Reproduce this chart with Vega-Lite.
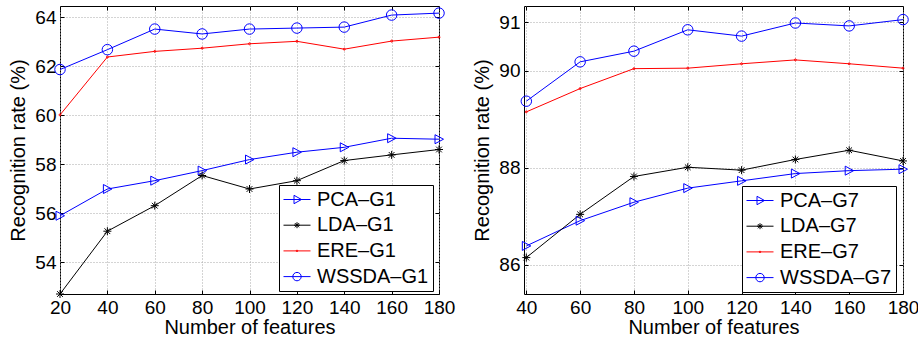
{
  "$schema": "https://vega.github.io/schema/vega-lite/v6.json",
  "padding": {"left": 8, "top": 5, "right": 0, "bottom": 0},
  "background": "white",
  "config": {
    "view": {"stroke": "#000", "strokeWidth": 1},
    "axis": {
      "domain": false,
      "labelFont": "Liberation Sans",
      "titleFont": "Liberation Sans",
      "labelFontSize": 19,
      "titleFontSize": 20,
      "titleFontWeight": "normal",
      "labelColor": "#000",
      "titleColor": "#000",
      "tickColor": "#000",
      "tickSize": -4,
      "tickWidth": 1,
      "gridColor": "#a8a8a8",
      "gridDash": [1, 2],
      "gridOpacity": 1,
      "labelFlush": false,
      "labelOverlap": false
    },
    "legend": {
      "labelFont": "Liberation Sans",
      "labelFontSize": 20,
      "labelColor": "#000",
      "strokeColor": "#000",
      "fillColor": "#fff",
      "padding": 4,
      "symbolSize": 400,
      "symbolOffset": 3.5,
      "symbolStrokeWidth": 1,
      "labelOffset": 9.5,
      "rowPadding": 4.7
    },
    "point": {"filled": false, "strokeWidth": 1, "size": 100, "opacity": 1}
  },
  "datasets": {
    "g1": [
      {"n": 20, "rate": 55.90, "method": "PCA–G1"},
      {"n": 40, "rate": 56.99, "method": "PCA–G1"},
      {"n": 60, "rate": 57.33, "method": "PCA–G1"},
      {"n": 80, "rate": 57.74, "method": "PCA–G1"},
      {"n": 100, "rate": 58.19, "method": "PCA–G1"},
      {"n": 120, "rate": 58.49, "method": "PCA–G1"},
      {"n": 140, "rate": 58.69, "method": "PCA–G1"},
      {"n": 160, "rate": 59.06, "method": "PCA–G1"},
      {"n": 180, "rate": 59.02, "method": "PCA–G1"},
      {"n": 20, "rate": 52.71, "method": "LDA–G1"},
      {"n": 40, "rate": 55.27, "method": "LDA–G1"},
      {"n": 60, "rate": 56.31, "method": "LDA–G1"},
      {"n": 80, "rate": 57.54, "method": "LDA–G1"},
      {"n": 100, "rate": 56.99, "method": "LDA–G1"},
      {"n": 120, "rate": 57.33, "method": "LDA–G1"},
      {"n": 140, "rate": 58.15, "method": "LDA–G1"},
      {"n": 160, "rate": 58.38, "method": "LDA–G1"},
      {"n": 180, "rate": 58.60, "method": "LDA–G1"},
      {"n": 20, "rate": 60.01, "method": "ERE–G1"},
      {"n": 40, "rate": 62.37, "method": "ERE–G1"},
      {"n": 60, "rate": 62.60, "method": "ERE–G1"},
      {"n": 80, "rate": 62.73, "method": "ERE–G1"},
      {"n": 100, "rate": 62.91, "method": "ERE–G1"},
      {"n": 120, "rate": 63.01, "method": "ERE–G1"},
      {"n": 140, "rate": 62.69, "method": "ERE–G1"},
      {"n": 160, "rate": 63.02, "method": "ERE–G1"},
      {"n": 180, "rate": 63.18, "method": "ERE–G1"},
      {"n": 20, "rate": 61.86, "method": "WSSDA–G1"},
      {"n": 40, "rate": 62.67, "method": "WSSDA–G1"},
      {"n": 60, "rate": 63.51, "method": "WSSDA–G1"},
      {"n": 80, "rate": 63.31, "method": "WSSDA–G1"},
      {"n": 100, "rate": 63.51, "method": "WSSDA–G1"},
      {"n": 120, "rate": 63.55, "method": "WSSDA–G1"},
      {"n": 140, "rate": 63.59, "method": "WSSDA–G1"},
      {"n": 160, "rate": 64.08, "method": "WSSDA–G1"},
      {"n": 180, "rate": 64.16, "method": "WSSDA–G1"}
    ],
    "g7": [
      {"n": 40, "rate": 86.39, "method": "PCA–G7"},
      {"n": 60, "rate": 86.91, "method": "PCA–G7"},
      {"n": 80, "rate": 87.29, "method": "PCA–G7"},
      {"n": 100, "rate": 87.58, "method": "PCA–G7"},
      {"n": 120, "rate": 87.73, "method": "PCA–G7"},
      {"n": 140, "rate": 87.88, "method": "PCA–G7"},
      {"n": 160, "rate": 87.94, "method": "PCA–G7"},
      {"n": 180, "rate": 87.97, "method": "PCA–G7"},
      {"n": 40, "rate": 86.15, "method": "LDA–G7"},
      {"n": 60, "rate": 87.04, "method": "LDA–G7"},
      {"n": 80, "rate": 87.82, "method": "LDA–G7"},
      {"n": 100, "rate": 88.01, "method": "LDA–G7"},
      {"n": 120, "rate": 87.95, "method": "LDA–G7"},
      {"n": 140, "rate": 88.17, "method": "LDA–G7"},
      {"n": 160, "rate": 88.36, "method": "LDA–G7"},
      {"n": 180, "rate": 88.14, "method": "LDA–G7"},
      {"n": 40, "rate": 89.15, "method": "ERE–G7"},
      {"n": 60, "rate": 89.63, "method": "ERE–G7"},
      {"n": 80, "rate": 90.04, "method": "ERE–G7"},
      {"n": 100, "rate": 90.05, "method": "ERE–G7"},
      {"n": 120, "rate": 90.14, "method": "ERE–G7"},
      {"n": 140, "rate": 90.22, "method": "ERE–G7"},
      {"n": 160, "rate": 90.14, "method": "ERE–G7"},
      {"n": 180, "rate": 90.05, "method": "ERE–G7"},
      {"n": 40, "rate": 89.37, "method": "WSSDA–G7"},
      {"n": 60, "rate": 90.18, "method": "WSSDA–G7"},
      {"n": 80, "rate": 90.40, "method": "WSSDA–G7"},
      {"n": 100, "rate": 90.84, "method": "WSSDA–G7"},
      {"n": 120, "rate": 90.71, "method": "WSSDA–G7"},
      {"n": 140, "rate": 90.98, "method": "WSSDA–G7"},
      {"n": 160, "rate": 90.92, "method": "WSSDA–G7"},
      {"n": 180, "rate": 91.05, "method": "WSSDA–G7"}
    ]
  },
  "spacing": 16,
  "resolve": {
    "scale": {"color": "independent"},
    "legend": {"color": "independent"}
  },
  "hconcat": [
    {
      "width": 379,
      "height": 288,
      "data": {"name": "g1"},
      "resolve": {"axis": {"x": "independent", "y": "independent"}},
      "layer": [
        {
          "mark": {"type": "line", "strokeWidth": 1},
          "encoding": {
            "x": {"field": "n", "type": "quantitative",
              "scale": {"domain": [20, 180], "nice": false, "zero": false},
              "axis": {"orient": "bottom", "values": [20, 40, 60, 80, 100, 120, 140, 160, 180], "title": "Number of features", "grid": true, "labelPadding": 8, "titlePadding": 0}},
            "y": {"field": "rate", "type": "quantitative",
              "scale": {"domain": [52.71, 64.45], "nice": false, "zero": false},
              "axis": {"orient": "left", "values": [54, 56, 58, 60, 62, 64], "title": "Recognition rate (%)", "grid": true, "labelPadding": 8, "titlePadding": 6}},
            "color": {"field": "method", "type": "nominal",
              "scale": {"domain": ["PCA–G1", "LDA–G1", "ERE–G1", "WSSDA–G1"], "range": ["#0000ff", "#000000", "#ff0000", "#0000ff"]},
              "legend": {"orient": "none", "legendX": 219, "legendY": 179, "title": null,
                "encode": {"symbols": {"update": {
                  "shape": {"signal": "datum.index == 0 ? 'M-1.35,0H1.35M-0.3,-0.42L0.45,0L-0.3,0.42Z' : datum.index == 1 ? 'M-1.35,0H1.35M-0.3,0H0.3M0,-0.3V0.3M-0.21,-0.21L0.21,0.21M-0.21,0.21L0.21,-0.21' : datum.index == 2 ? 'M-1.35,0H1.35M-0.08,0A0.08,0.08,0,1,1,0.08,0A0.08,0.08,0,1,1,-0.08,0Z' : 'M-1.35,0H1.35M-0.42,0A0.42,0.42,0,1,1,0.42,0A0.42,0.42,0,1,1,-0.42,0Z'"},
                  "fill": {"value": "transparent"},
                  "strokeWidth": {"value": 1}
                }}}}}
          }
        },
        {
          "transform": [{"filter": "datum.method == 'PCA–G1'"}],
          "mark": {"type": "point", "color": "#0000ff", "shape": "M-0.8,-0.9L0.9,0L-0.8,0.9Z"},
          "encoding": {
            "x": {"field": "n", "type": "quantitative",
              "axis": {"orient": "top", "values": [20, 40, 60, 80, 100, 120, 140, 160, 180], "labels": false, "title": null, "grid": false}},
            "y": {"field": "rate", "type": "quantitative",
              "axis": {"orient": "right", "values": [54, 56, 58, 60, 62, 64], "labels": false, "title": null, "grid": false}}
          }
        },
        {
          "transform": [{"filter": "datum.method == 'LDA–G1'"}],
          "mark": {"type": "point", "color": "#000000", "shape": "M-0.8,0H0.8M0,-0.8V0.8M-0.57,-0.57L0.57,0.57M-0.57,0.57L0.57,-0.57"},
          "encoding": {
            "x": {"field": "n", "type": "quantitative", "axis": null},
            "y": {"field": "rate", "type": "quantitative", "axis": null}
          }
        },
        {
          "transform": [{"filter": "datum.method == 'ERE–G1'"}],
          "mark": {"type": "point", "color": "#ff0000", "shape": "M-0.2,0A0.2,0.2,0,1,1,0.2,0A0.2,0.2,0,1,1,-0.2,0Z"},
          "encoding": {
            "x": {"field": "n", "type": "quantitative", "axis": null},
            "y": {"field": "rate", "type": "quantitative", "axis": null}
          }
        },
        {
          "transform": [{"filter": "datum.method == 'WSSDA–G1'"}],
          "mark": {"type": "point", "color": "#0000ff", "shape": "M-1.05,0A1.05,1.05,0,1,1,1.05,0A1.05,1.05,0,1,1,-1.05,0Z"},
          "encoding": {
            "x": {"field": "n", "type": "quantitative", "axis": null},
            "y": {"field": "rate", "type": "quantitative", "axis": null}
          }
        }
      ]
    },
    {
      "width": 379,
      "height": 288,
      "data": {"name": "g7"},
      "resolve": {"axis": {"x": "independent", "y": "independent"}},
      "layer": [
        {
          "mark": {"type": "line", "strokeWidth": 1},
          "encoding": {
            "x": {"field": "n", "type": "quantitative",
              "scale": {"domain": [39.14, 180], "nice": false, "zero": false},
              "axis": {"orient": "bottom", "values": [40, 60, 80, 100, 120, 140, 160, 180], "title": "Number of features", "grid": true, "labelPadding": 8, "titlePadding": 0}},
            "y": {"field": "rate", "type": "quantitative",
              "scale": {"domain": [85.40, 91.33], "nice": false, "zero": false},
              "axis": {"orient": "left", "values": [86, 88, 90, 91], "title": "Recognition rate (%)", "grid": true, "labelPadding": 8, "titlePadding": 6}},
            "color": {"field": "method", "type": "nominal",
              "scale": {"domain": ["PCA–G7", "LDA–G7", "ERE–G7", "WSSDA–G7"], "range": ["#0000ff", "#000000", "#ff0000", "#0000ff"]},
              "legend": {"orient": "none", "legendX": 218, "legendY": 180, "title": null,
                "encode": {"symbols": {"update": {
                  "shape": {"signal": "datum.index == 0 ? 'M-1.35,0H1.35M-0.3,-0.42L0.45,0L-0.3,0.42Z' : datum.index == 1 ? 'M-1.35,0H1.35M-0.3,0H0.3M0,-0.3V0.3M-0.21,-0.21L0.21,0.21M-0.21,0.21L0.21,-0.21' : datum.index == 2 ? 'M-1.35,0H1.35M-0.08,0A0.08,0.08,0,1,1,0.08,0A0.08,0.08,0,1,1,-0.08,0Z' : 'M-1.35,0H1.35M-0.42,0A0.42,0.42,0,1,1,0.42,0A0.42,0.42,0,1,1,-0.42,0Z'"},
                  "fill": {"value": "transparent"},
                  "strokeWidth": {"value": 1}
                }}}}}
          }
        },
        {
          "transform": [{"filter": "datum.method == 'PCA–G7'"}],
          "mark": {"type": "point", "color": "#0000ff", "shape": "M-0.8,-0.9L0.9,0L-0.8,0.9Z"},
          "encoding": {
            "x": {"field": "n", "type": "quantitative",
              "axis": {"orient": "top", "values": [40, 60, 80, 100, 120, 140, 160, 180], "labels": false, "title": null, "grid": false}},
            "y": {"field": "rate", "type": "quantitative",
              "axis": {"orient": "right", "values": [86, 88, 90, 91], "labels": false, "title": null, "grid": false}}
          }
        },
        {
          "transform": [{"filter": "datum.method == 'LDA–G7'"}],
          "mark": {"type": "point", "color": "#000000", "shape": "M-0.8,0H0.8M0,-0.8V0.8M-0.57,-0.57L0.57,0.57M-0.57,0.57L0.57,-0.57"},
          "encoding": {
            "x": {"field": "n", "type": "quantitative", "axis": null},
            "y": {"field": "rate", "type": "quantitative", "axis": null}
          }
        },
        {
          "transform": [{"filter": "datum.method == 'ERE–G7'"}],
          "mark": {"type": "point", "color": "#ff0000", "shape": "M-0.2,0A0.2,0.2,0,1,1,0.2,0A0.2,0.2,0,1,1,-0.2,0Z"},
          "encoding": {
            "x": {"field": "n", "type": "quantitative", "axis": null},
            "y": {"field": "rate", "type": "quantitative", "axis": null}
          }
        },
        {
          "transform": [{"filter": "datum.method == 'WSSDA–G7'"}],
          "mark": {"type": "point", "color": "#0000ff", "shape": "M-1.05,0A1.05,1.05,0,1,1,1.05,0A1.05,1.05,0,1,1,-1.05,0Z"},
          "encoding": {
            "x": {"field": "n", "type": "quantitative", "axis": null},
            "y": {"field": "rate", "type": "quantitative", "axis": null}
          }
        }
      ]
    }
  ]
}
